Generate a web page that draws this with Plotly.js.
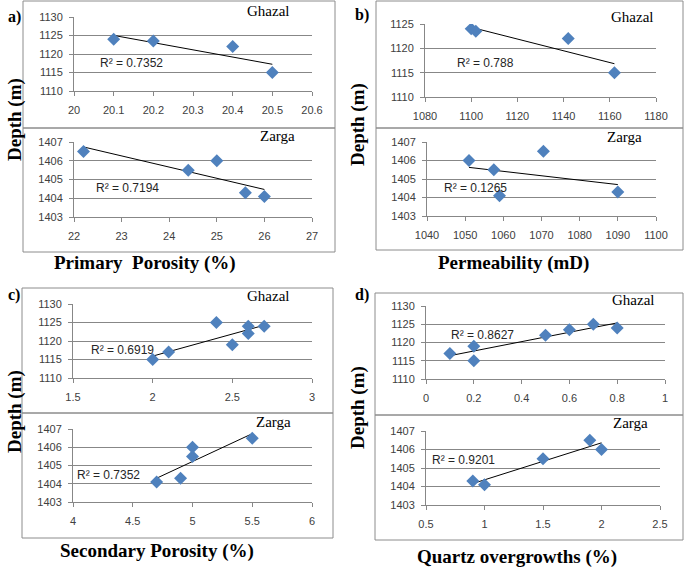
<!DOCTYPE html>
<html><head><meta charset="utf-8">
<script src="https://cdn.plot.ly/plotly-3.0.1.min.js"></script>
<style>body{margin:0;padding:0;background:#fff}#chart{width:685px;height:568px}</style>
</head><body><div id="chart"></div>
<script>
// ---- data ----
const aGhX = [20.1, 20.2, 20.4, 20.5];
const aGhY = [1124, 1123.5, 1122, 1115];
const aZaX = [22.2, 24.4, 25, 25.6, 26];
const aZaY = [1406.5, 1405.5, 1406, 1404.3, 1404.1];
const bGhX = [1100, 1102, 1142, 1162];
const bGhY = [1124, 1123.5, 1122, 1115];
const bZaX = [1051, 1057.5, 1059, 1070.5, 1090];
const bZaY = [1406, 1405.5, 1404.1, 1406.5, 1404.3];
const cGhX = [2, 2.1, 2.4, 2.5, 2.6, 2.6, 2.7];
const cGhY = [1115, 1117, 1125, 1119, 1122, 1124, 1124];
const cZaX = [4.7, 4.9, 5, 5, 5.5];
const cZaY = [1404.1, 1404.3, 1405.5, 1406, 1406.5];
const dGhX = [0.1, 0.2, 0.2, 0.5, 0.6, 0.7, 0.8];
const dGhY = [1117, 1119, 1115, 1122, 1123.5, 1125, 1124];
const dZaX = [0.9, 1, 1.5, 1.9, 2];
const dZaY = [1404.3, 1404.1, 1405.5, 1406.5, 1406];
const r2Labels = ["R² = 0.7352", "R² = 0.7194", "R² = 0.788", "R² = 0.1265",
                  "R² = 0.6919", "R² = 0.7352", "R² = 0.8627", "R² = 0.9201"];
const wellNames = ["Ghazal", "Zarga"];
const panelLabels = ["a)", "b)", "c)", "d)"];
const xTitles = ["Primary  Porosity (%)", "Permeability (mD)", "Secondary Porosity (%)", "Quartz overgrowths (%)"];
const yTitle = "Depth (m)";

// ---- layout helpers ----
const W = 685, H = 568;
const px = v => v / W, py = v => 1 - v / H;

const panels = [
  {x: aGhX, y: aGhY, xr: [20, 20.6], xd: 0.1, yr: [1110, 1130], yd: 5, box: [74, 312, 17, 91], r2: [131, 63], nm: [268, 11]},
  {x: aZaX, y: aZaY, xr: [22, 27], xd: 1, yr: [1403, 1407], yd: 1, box: [74, 312, 142, 217], r2: [128, 188], nm: [277, 136]},
  {x: bGhX, y: bGhY, xr: [1080, 1180], xd: 20, yr: [1110, 1125], yd: 5, box: [425, 656, 24, 97], r2: [485, 63], nm: [632, 17]},
  {x: bZaX, y: bZaY, xr: [1040, 1100], xd: 10, yr: [1403, 1407], yd: 1, box: [427, 656, 142, 216], r2: [475, 188], nm: [624, 137]},
  {x: cGhX, y: cGhY, xr: [1.5, 3], xd: 0.5, yr: [1110, 1130], yd: 5, box: [73, 312, 304, 378], r2: [122, 350], nm: [268, 296]},
  {x: cZaX, y: cZaY, xr: [4, 6], xd: 0.5, yr: [1403, 1407], yd: 1, box: [73, 312, 429, 502], r2: [108, 475], nm: [273, 422]},
  {x: dGhX, y: dGhY, xr: [0, 1], xd: 0.2, yr: [1110, 1130], yd: 5, box: [426, 665, 306, 379], r2: [482, 335], nm: [633, 300]},
  {x: dZaX, y: dZaY, xr: [0.5, 2.5], xd: 0.5, yr: [1403, 1407], yd: 1, box: [426, 660, 431, 505], r2: [463, 460], nm: [630, 423]}
];

function fit(xs, ys) {
  const n = xs.length;
  const mx = xs.reduce((a, b) => a + b, 0) / n, my = ys.reduce((a, b) => a + b, 0) / n;
  let sxy = 0, sxx = 0;
  for (let i = 0; i < n; i++) { sxy += (xs[i] - mx) * (ys[i] - my); sxx += (xs[i] - mx) ** 2; }
  const b = sxy / sxx, a = my - b * mx;
  const x0 = Math.min(...xs), x1 = Math.max(...xs);
  return {x: [x0, x1], y: [a + b * x0, a + b * x1]};
}

const tickFont = {family: "Liberation Sans, Arial, sans-serif", size: 11, color: "#404040"};
const gray = "#878787";
const traces = [], annotations = [], shapes = [];
const layout = {
  width: W, height: H, margin: {l: 0, r: 0, t: 0, b: 0},
  paper_bgcolor: "#fff", plot_bgcolor: "rgba(0,0,0,0)", showlegend: false
};

panels.forEach((p, i) => {
  const k = i + 1, xa = "x" + (k === 1 ? "" : k), ya = "y" + (k === 1 ? "" : k);
  const xName = "xaxis" + (k === 1 ? "" : k), yName = "yaxis" + (k === 1 ? "" : k);
  const t = fit(p.x, p.y);
  traces.push({x: t.x, y: t.y, xaxis: xa, yaxis: ya, mode: "lines", type: "scatter",
    line: {color: "#000", width: 1}, hoverinfo: "skip"});
  traces.push({x: p.x, y: p.y, xaxis: xa, yaxis: ya, mode: "markers", type: "scatter",
    marker: {symbol: "diamond", size: 10, color: "#4F81BD", line: {width: 0}}});
  layout[xName] = {domain: [px(p.box[0]), px(p.box[1])], anchor: ya, range: p.xr, dtick: p.xd, tick0: p.xr[0],
    showgrid: false, zeroline: false, showline: true, linecolor: gray, linewidth: 1,
    ticks: "outside", ticklen: 4, tickcolor: gray, tickfont: tickFont, ticklabelstandoff: 5};
  layout[yName] = {domain: [py(p.box[3]), py(p.box[2])], anchor: xa, range: p.yr, dtick: p.yd, tick0: p.yr[0],
    showgrid: true, gridcolor: gray, gridwidth: 1, zeroline: false, showline: true, linecolor: gray, linewidth: 1,
    ticks: "outside", ticklen: 4, tickcolor: gray, tickfont: tickFont, ticklabelstandoff: 4};
  annotations.push({xref: "paper", yref: "paper", x: px(p.r2[0]), y: py(p.r2[1]), text: r2Labels[i],
    showarrow: false, xanchor: "center", yanchor: "middle",
    font: {family: "Liberation Sans, Arial, sans-serif", size: 12, color: "#262626"}});
  annotations.push({xref: "paper", yref: "paper", x: px(p.nm[0]), y: py(p.nm[1]), text: wellNames[i % 2],
    showarrow: false, xanchor: "center", yanchor: "middle",
    font: {family: "Liberation Serif, Times New Roman, serif", size: 15, color: "#000"}});
});

// chart area boxes
const boxes = [
  [23, 335, 1, 128], [23, 335, 128, 252],
  [376, 683, 1, 128], [376, 683, 128, 250],
  [22, 333, 288, 413], [22, 333, 413, 538],
  [375, 683, 293, 415], [375, 683, 415, 540]
];
boxes.forEach(b => shapes.push({type: "rect", xref: "paper", yref: "paper",
  x0: px(b[0]), x1: px(b[1]), y0: py(b[3]), y1: py(b[2]), line: {color: "#8c8c8c", width: 1}}));

// panel letters, x titles, y titles
const letterPos = [[14, 17], [362, 15], [14, 295], [362, 295]];
const xTitlePos = [[145, 263], [513, 263], [157, 551], [517, 557]];
const yTitlePos = [[15, 120], [358, 125], [15, 412], [358, 408]];
const boldSerif = {family: "Liberation Serif, Times New Roman, serif", size: 19, color: "#000"};
for (let i = 0; i < 4; i++) {
  annotations.push({xref: "paper", yref: "paper", x: px(letterPos[i][0]), y: py(letterPos[i][1]),
    text: "<b>" + panelLabels[i] + "</b>", showarrow: false, xanchor: "center", yanchor: "middle",
    font: {family: "Liberation Serif, Times New Roman, serif", size: 16, color: "#000"}});
  annotations.push({xref: "paper", yref: "paper", x: px(xTitlePos[i][0]), y: py(xTitlePos[i][1]),
    text: "<b>" + xTitles[i] + "</b>", showarrow: false, xanchor: "center", yanchor: "middle", font: boldSerif});
  annotations.push({xref: "paper", yref: "paper", x: px(yTitlePos[i][0]), y: py(yTitlePos[i][1]),
    text: "<b>" + yTitle + "</b>", showarrow: false, textangle: -90, xanchor: "center", yanchor: "middle", font: boldSerif});
}
layout.annotations = annotations;
layout.shapes = shapes;

Plotly.newPlot("chart", traces, layout, {displayModeBar: false, staticPlot: true});
</script></body></html>
